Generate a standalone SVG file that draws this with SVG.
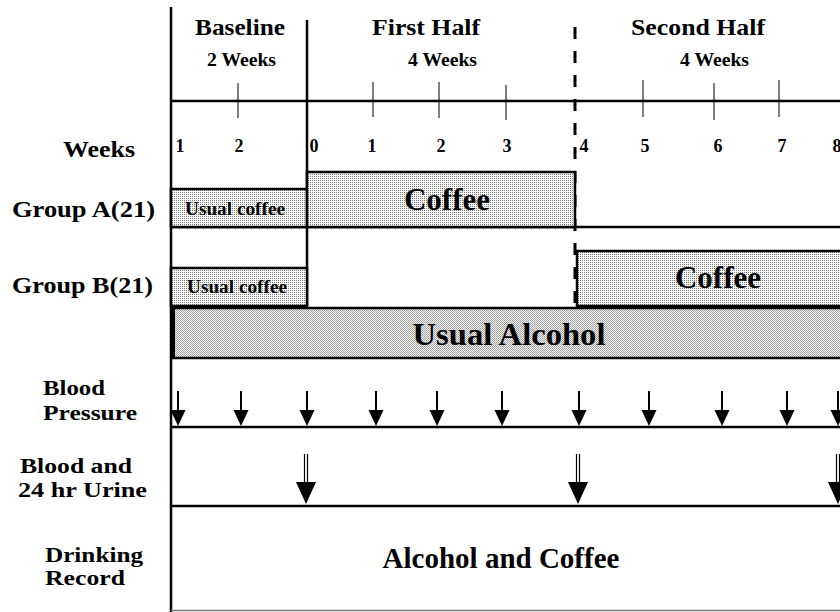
<svg xmlns="http://www.w3.org/2000/svg" xmlns:xlink="http://www.w3.org/1999/xlink" width="840" height="612" viewBox="0 0 840 612">
<style>
text{font-family:"Liberation Serif","Times New Roman",serif;font-weight:bold;fill:#000}
.axis{stroke:#000;stroke-width:2.5;fill:none}
.tick{stroke:#000;stroke-width:1;fill:none}
.box{fill:url(#stip);stroke:#000;stroke-width:2.5}
.box2{fill:url(#stip2);stroke:#000;stroke-width:2.5}
.mid{text-anchor:middle}
.h1{font-size:23px}
.h2{font-size:18px}
.num{font-size:18px;text-anchor:middle}
.lab{font-size:23px}
.lab2{font-size:22px}
.big{font-size:31px;text-anchor:middle}
.small{font-size:18px;text-anchor:middle}
</style>
<defs>
<pattern id="stip" width="2" height="2" patternUnits="userSpaceOnUse">
<rect width="2" height="2" fill="#fff"/>
<rect width="1" height="1" fill="#7a7a7a"/>
</pattern>
<pattern id="stip2" width="2" height="2" patternUnits="userSpaceOnUse">
<rect width="2" height="2" fill="#f4f4f4"/>
<rect width="1" height="1" fill="#999"/>
<rect x="1" y="1" width="1" height="1" fill="#aaa"/>
</pattern>
<g id="bp">
<line x1="0" y1="391" x2="0" y2="412" stroke="#000" stroke-width="2"/>
<polygon points="-7.5,410 7.5,410 0,426" fill="#000"/>
</g>
<g id="ur">
<line x1="-1.5" y1="454" x2="-1.5" y2="484" stroke="#000" stroke-width="1.2"/>
<line x1="1.5" y1="454" x2="1.5" y2="484" stroke="#000" stroke-width="1.2"/>
<polygon points="-10,482 10,482 0,504" fill="#000"/>
</g>
</defs>
<rect width="840" height="612" fill="#fff"/>

<g id="frame">
<line class="axis" x1="171" y1="7" x2="171" y2="612"/>
<line class="axis" x1="307" y1="20" x2="307" y2="306"/>
<line class="axis" x1="171" y1="101" x2="840" y2="101"/>
<line x1="575" y1="27" x2="575" y2="310" stroke="#000" stroke-width="3" stroke-dasharray="12 12"/>
<line class="tick" x1="238" y1="83" x2="238" y2="118"/>
<line class="tick" x1="373" y1="82" x2="373" y2="117"/>
<line class="tick" x1="439" y1="82" x2="439" y2="118"/>
<line class="tick" x1="506" y1="85" x2="506" y2="120"/>
<line class="tick" x1="643" y1="80" x2="643" y2="117"/>
<line class="tick" x1="714" y1="83" x2="714" y2="120"/>
<line class="tick" x1="779" y1="80" x2="779" y2="117"/>
<line class="axis" x1="171" y1="227" x2="840" y2="227"/>
<line class="axis" x1="171" y1="427" x2="840" y2="427"/>
<line class="axis" x1="171" y1="506" x2="840" y2="506"/>
<line x1="171" y1="610.5" x2="840" y2="610.5" stroke="#777" stroke-width="1.5"/>
</g>

<g id="header-baseline">
<text class="h1" x="195" y="35" textLength="90" lengthAdjust="spacingAndGlyphs">Baseline</text>
<text class="h2" x="207" y="66" textLength="69" lengthAdjust="spacingAndGlyphs">2 Weeks</text>
</g>
<g id="header-first">
<text class="h1" x="372" y="35" textLength="108" lengthAdjust="spacingAndGlyphs">First Half</text>
<text class="h2" x="408" y="66" textLength="69" lengthAdjust="spacingAndGlyphs">4 Weeks</text>
</g>
<g id="header-second">
<text class="h1" x="631" y="35" textLength="134" lengthAdjust="spacingAndGlyphs">Second Half</text>
<text class="h2" x="680" y="66" textLength="69" lengthAdjust="spacingAndGlyphs">4 Weeks</text>
</g>

<g id="week-numbers">
<text class="num" x="180" y="152">1</text>
<text class="num" x="239" y="152">2</text>
<text class="num" x="314" y="152">0</text>
<text class="num" x="372" y="152">1</text>
<text class="num" x="441" y="152">2</text>
<text class="num" x="507" y="152">3</text>
<text class="num" x="584" y="152">4</text>
<text class="num" x="645" y="152">5</text>
<text class="num" x="718" y="152">6</text>
<text class="num" x="782" y="152">7</text>
<text class="num" x="837" y="152">8</text>
</g>

<g id="row-labels">
<text class="lab" x="63" y="157" textLength="72" lengthAdjust="spacingAndGlyphs">Weeks</text>
<text class="lab" x="12" y="217" textLength="143" lengthAdjust="spacingAndGlyphs">Group A(21)</text>
<text class="lab" x="12" y="293" textLength="141" lengthAdjust="spacingAndGlyphs">Group B(21)</text>
<text class="lab2" x="43" y="395" textLength="62" lengthAdjust="spacingAndGlyphs">Blood</text>
<text class="lab2" x="43" y="420" textLength="94" lengthAdjust="spacingAndGlyphs">Pressure</text>
<text class="lab2" x="20" y="473" textLength="112" lengthAdjust="spacingAndGlyphs">Blood and</text>
<text class="lab2" x="18" y="497" textLength="129" lengthAdjust="spacingAndGlyphs">24 hr Urine</text>
<text class="lab2" x="45" y="562" textLength="98" lengthAdjust="spacingAndGlyphs">Drinking</text>
<text class="lab2" x="45" y="585" textLength="80" lengthAdjust="spacingAndGlyphs">Record</text>
</g>

<g id="groupA-usual">
<rect class="box" x="171" y="189" width="136" height="38"/>
<text class="small" x="235" y="215" textLength="100" lengthAdjust="spacingAndGlyphs">Usual coffee</text>
</g>
<g id="groupA-coffee">
<rect class="box" x="307" y="172" width="268" height="55"/>
<text class="big" x="447" y="210">Coffee</text>
</g>
<g id="groupB-usual">
<rect class="box" x="171" y="268" width="136" height="38"/>
<text class="small" x="237" y="293" textLength="100" lengthAdjust="spacingAndGlyphs">Usual coffee</text>
</g>
<g id="groupB-coffee">
<rect class="box" x="577" y="251" width="266" height="55"/>
<text class="big" x="718" y="288">Coffee</text>
</g>
<g id="usual-alcohol">
<rect class="box2" x="173" y="308" width="670" height="50"/>
<line x1="173" y1="308" x2="173" y2="358" stroke="#000" stroke-width="4"/>
<text class="big" x="509" y="345" textLength="193" lengthAdjust="spacingAndGlyphs">Usual Alcohol</text>
</g>
<g id="drinking-record">
<text font-size="29" text-anchor="middle" x="501" y="568">Alcohol and Coffee</text>
</g>

<g id="connectors">
<use xlink:href="#bp" x="178"/>
<use xlink:href="#bp" x="241"/>
<use xlink:href="#bp" x="307"/>
<use xlink:href="#bp" x="376"/>
<use xlink:href="#bp" x="437"/>
<use xlink:href="#bp" x="502"/>
<use xlink:href="#bp" x="579"/>
<use xlink:href="#bp" x="649"/>
<use xlink:href="#bp" x="722"/>
<use xlink:href="#bp" x="787"/>
<use xlink:href="#bp" x="838"/>
<use xlink:href="#ur" x="306"/>
<use xlink:href="#ur" x="578"/>
<use xlink:href="#ur" x="838"/>
</g>
</svg>
